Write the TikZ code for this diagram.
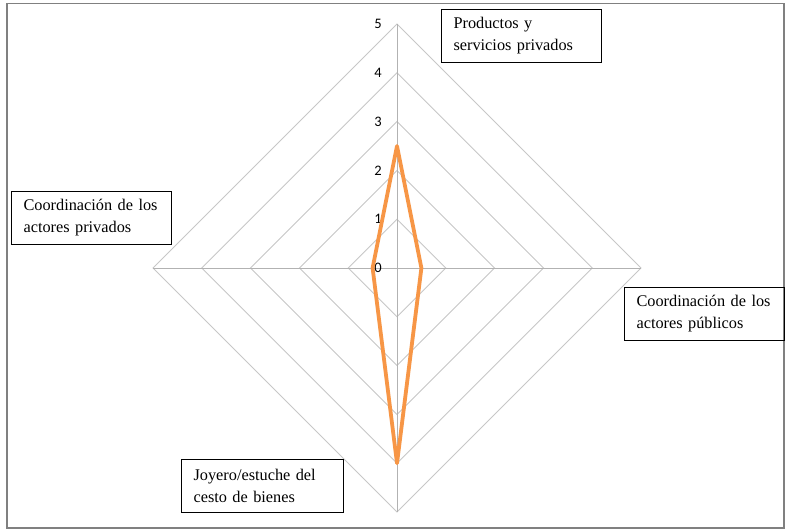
\documentclass[tikz,border=0pt]{standalone}
\usepackage{fontspec}
\setmainfont{Liberation Serif}
\newfontfamily\cifras{Carlito}
\begin{document}
\begin{tikzpicture}[x=1pt,y=-1pt] % coordenadas en pixeles, y hacia abajo
\tikzstyle{rejilla} = [draw=black!22, line width=0.9pt] % rombos de la red
\tikzstyle{eje} = [draw=black!30, line width=1pt] % ejes del radar
\tikzstyle{etiqueta} = [draw, line width=1.1pt, anchor=north west, align=left, inner xsep=12pt, inner ysep=0pt, minimum height=53pt, text width=136pt, font=\fontsize{16.3}{22}\selectfont] % cuadros de texto
\tikzstyle{cifra} = [font=\cifras\fontsize{14.5}{14.5}\selectfont, inner sep=0pt] % numeros del eje
\tikzstyle{serie} = [draw={rgb,255:red,247;green,150;blue,70}, line width=3.8pt, line join=round] % linea naranja
\def\u{48.8} % pixeles por unidad
\useasboundingbox (0,0) rectangle (788,530);
\fill[white] (0,0) rectangle (788,530);
\draw[black!50, line width=1.8pt] (7,3.5) rectangle (784,528); % marco
\coordinate (centro) at (397,268);
% red de rombos
\foreach \l in {1,...,5}
  \draw[rejilla] (397,268-\l*\u) -- (397+\l*\u,268) -- (397,268+\l*\u) -- (397-\l*\u,268) -- cycle;
% ejes
\coordinate (arriba) at (397,268-5*\u);
\coordinate (derecha) at (397+5*\u,268);
\coordinate (abajo) at (397,268+5*\u);
\coordinate (izquierda) at (397-5*\u,268);
\draw[eje] (centro) -- (arriba);
\draw[eje] (centro) -- (derecha);
\draw[eje] (centro) -- (abajo);
\draw[eje] (centro) -- (izquierda);
% numeros
\foreach \l in {0,...,5}
  \node[cifra] (n\l) at (378,268-\l*\u) {\l};
% serie de datos
\coordinate (p1) at (397,268-2.5*\u);
\coordinate (p2) at (397+0.5*\u,268);
\coordinate (p3) at (397,268+4*\u);
\coordinate (p4) at (397-0.5*\u,268);
\draw[serie] (p1) -- (p2) -- (p3) -- (p4) -- cycle;
% cuadros de texto
\node[etiqueta] (productos) at (441,9) {Productos y\\servicios privados};
\node[etiqueta] (privados) at (11,191) {Coordinación de los\\actores privados};
\node[etiqueta] (publicos) at (624,287) {Coordinación de los\\actores públicos};
\node[etiqueta, text width=138pt] (joyero) at (181,459) {Joyero/estuche del\\cesto de bienes};
\end{tikzpicture}
\end{document}
